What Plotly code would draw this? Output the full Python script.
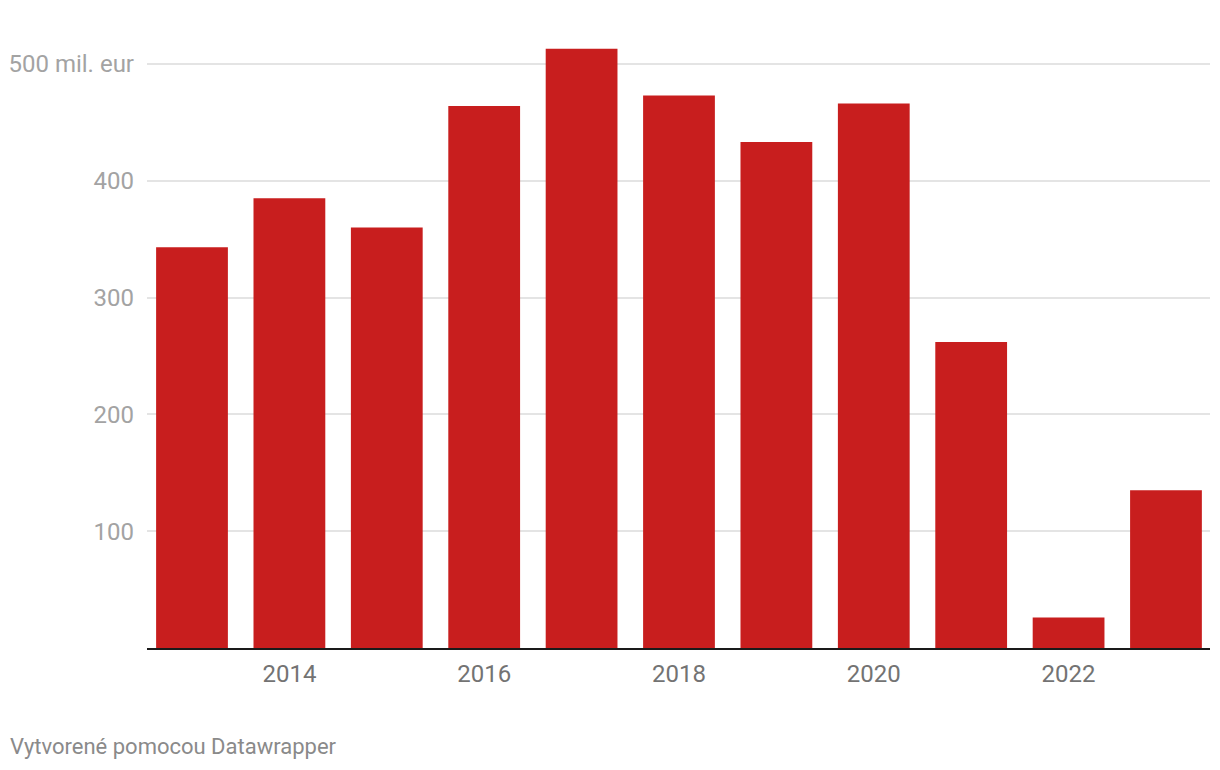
import plotly.graph_objects as go

years = [2013, 2014, 2015, 2016, 2017, 2018, 2019, 2020, 2021, 2022, 2023]
values = [343, 385, 360, 464, 513, 473, 433, 466, 262, 26, 135]
x_tick_vals = [2014, 2016, 2018, 2020, 2022]
x_tick_text = ["2014", "2016", "2018", "2020", "2022"]
y_tick_vals = [100, 200, 300, 400, 500]
y_tick_text = ["100", "200", "300", "400", "500 mil. eur"]

FONT = "Roboto"

fig = go.Figure()
fig.add_trace(go.Bar(
    x=years, y=values, width=0.737,
    marker=dict(color="#c81e1e", line=dict(width=0)),
    hoverinfo="x+y",
))

fig.update_layout(
    width=1220, height=770,
    margin=dict(l=147, r=10, t=40, b=122, autoexpand=False),
    paper_bgcolor="white", plot_bgcolor="white",
    showlegend=False,
    font=dict(family=FONT),
    xaxis=dict(
        range=[2012.538, 2023.452],
        tickvals=x_tick_vals, ticktext=x_tick_text,
        showgrid=False, zeroline=False,
        showline=True, linecolor="#1a1a1a", linewidth=2,
        ticks="", ticklabelstandoff=3,
        tickfont=dict(family=FONT, size=24, color="#737373"),
    ),
    yaxis=dict(
        range=[0, 520.4],
        tickvals=y_tick_vals, ticktext=y_tick_text,
        showgrid=True, gridcolor="#e4e4e4", gridwidth=2,
        zeroline=False, showline=False,
        ticks="", ticklabelstandoff=12,
        tickfont=dict(family=FONT, size=24, color="#a3a3a3"),
    ),
    annotations=[dict(
        text="Vytvorené pomocou Datawrapper",
        xref="paper", yref="paper", x=0, y=0,
        xanchor="left", yanchor="middle",
        xshift=-139, yshift=-98,
        showarrow=False,
        font=dict(family=FONT, size=22, color="#8a8a8a"),
    )],
)

fig.write_html("out.html")
